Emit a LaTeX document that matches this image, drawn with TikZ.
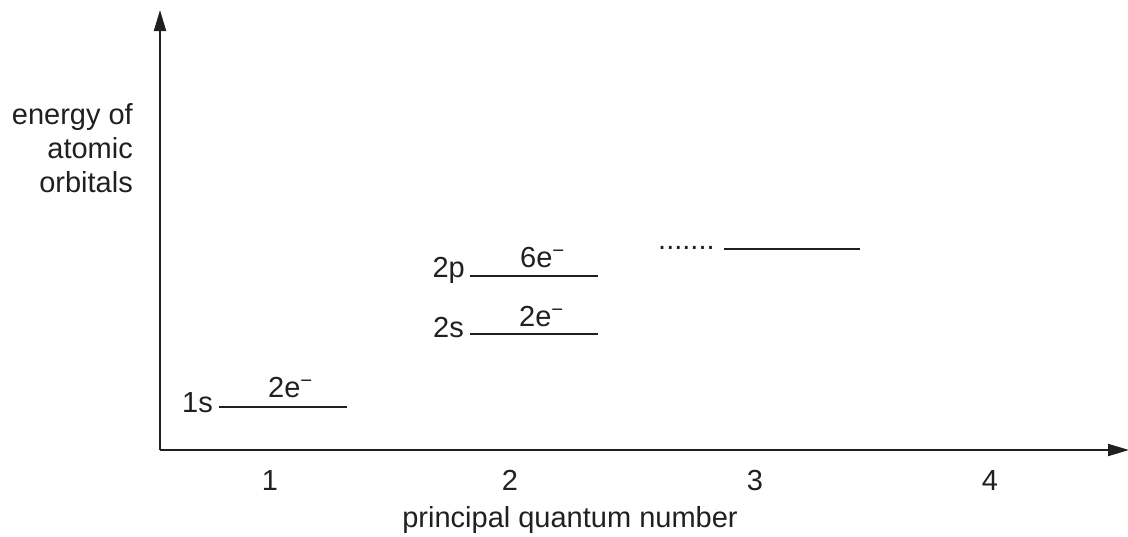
\documentclass[tikz,border=0pt]{standalone}
\usepackage{fontspec}
\setmainfont{Liberation Sans}
\usetikzlibrary{arrows.meta}
\definecolor{ink}{HTML}{231F20}
\begin{document}
\begin{tikzpicture}[x=1pt,y=-1pt,
  lbl/.style={font=\fontsize{29}{34}\selectfont, inner sep=0pt, text=ink},
  axis/.style={line width=2pt, draw=ink, -{Triangle[length=21pt,width=12pt]}},
  level/.style={line width=2pt, draw=ink}]
\useasboundingbox (0,0) rectangle (1128,536);
\coordinate (O) at (160,450);
\coordinate (Ytip) at (160,10);
\coordinate (Xtip) at (1129,450);
\draw[axis] (O) -- (Ytip);
\draw[axis] (O) -- (Xtip);
\node[lbl, anchor=base east] (ylab1) at (133,124) {energy of};
\node[lbl, anchor=base east] (ylab2) at (133,158) {atomic};
\node[lbl, anchor=base east] (ylab3) at (133,192) {orbitals};
\node[lbl, anchor=base] (t1) at (270,490) {1};
\node[lbl, anchor=base] (t2) at (510,490) {2};
\node[lbl, anchor=base] (t3) at (755,490) {3};
\node[lbl, anchor=base] (t4) at (990,490) {4};
\node[lbl, anchor=base] (xlab) at (570,527) {principal quantum number};
% 1s
\coordinate (a1) at (219,407);
\coordinate (b1) at (347,407);
\draw[level] (a1) -- (b1);
\node[lbl, anchor=base east] (n1s) at (213,412) {1s};
\node[lbl, anchor=base west] (e1s) at (268,397) {2e\textsuperscript{−}};
% 2s
\coordinate (a2) at (470,334);
\coordinate (b2) at (598,334);
\draw[level] (a2) -- (b2);
\node[lbl, anchor=base east] (n2s) at (464,337) {2s};
\node[lbl, anchor=base west] (e2s) at (519,326) {2e\textsuperscript{−}};
% 2p
\coordinate (a3) at (470,276);
\coordinate (b3) at (598,276);
\draw[level] (a3) -- (b3);
\node[lbl, anchor=base east] (n2p) at (465,277) {2p};
\node[lbl, anchor=base west] (e2p) at (520,267) {6e\textsuperscript{−}};
% 3
\coordinate (a4) at (724,249);
\coordinate (b4) at (860,249);
\draw[level] (a4) -- (b4);
\node[lbl, anchor=base west] (dots) at (658,249) {.......};
\end{tikzpicture}
\end{document}
